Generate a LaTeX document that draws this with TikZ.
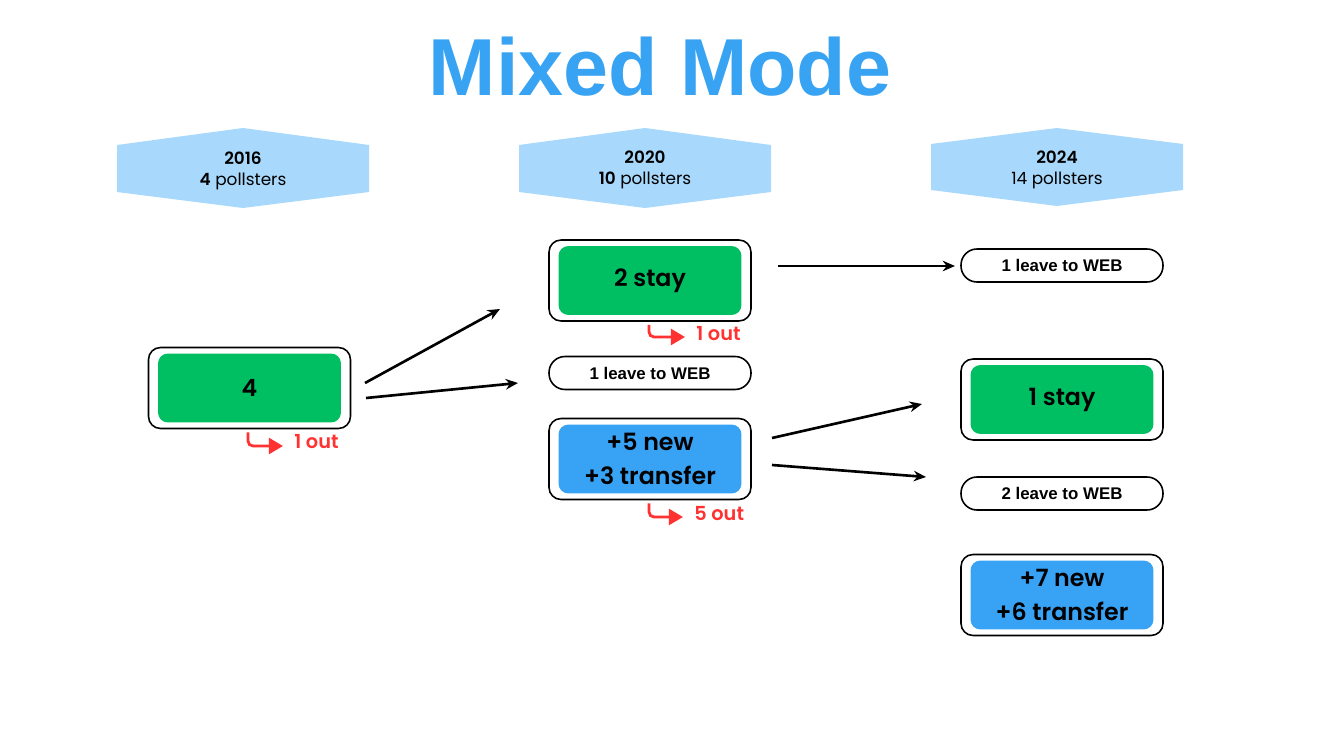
\documentclass[tikz,border=0pt]{standalone}
\usepackage{fontspec}
\setmainfont{Liberation Sans}
\newfontfamily\popfont[BoldFont={Poppins SemiBold}]{Poppins}
\usepackage{xcolor}
\usetikzlibrary{arrows.meta, positioning}

\definecolor{titleblue}{HTML}{38A3F2}
\definecolor{headblue}{HTML}{A8D8FB}
\definecolor{staygreen}{HTML}{00BF63}
\definecolor{newblue}{HTML}{38A2F5}
\definecolor{outred}{HTML}{FF3131}

\tikzset{
    frame/.style={draw, line width=0.9pt, fill=white, rounded corners=0.24cm,
        minimum width=4.04cm, minimum height=1.62cm},
    core/.style={rounded corners=0.2cm, minimum width=3.66cm, minimum height=1.38cm,
        font=\popfont\fontsize{13.5}{19.3}\selectfont\bfseries, align=center, inner sep=0pt},
    pill/.style={draw, line width=0.9pt, rounded corners=0.32cm, minimum width=4.04cm,
        minimum height=0.66cm, font=\fontsize{9.6}{11}\selectfont\bfseries},
    head/.style={font=\popfont\fontsize{9.6}{12}\selectfont, align=center},
    outlabel/.style={text=outred, font=\popfont\fontsize{11}{13}\selectfont\bfseries,
        anchor=west, inner sep=0pt},
    outarrow/.style={outred, line width=1.6pt, rounded corners=0.1cm,
        -{Triangle[length=8pt, width=9pt]}, shorten >=0.22cm},
    conn/.style={->, line width=1.5pt}
}

\begin{document}
\begin{tikzpicture}[x=0.02cm, y=-0.02cm, >={Stealth[length=7pt, width=6pt]}]
    \useasboundingbox (0,0) rectangle (1320,743);

    % Title
    \node[text=titleblue, font=\fontsize{46}{52}\selectfont\bfseries] (title) at (660,67) {Mixed Mode};

    % Year banners
    \fill[headblue] (117,145) -- (243,128) -- (369,145) -- (369,192) -- (243,208) -- (117,192) -- cycle;
    \fill[headblue] (519,145) -- (645,128) -- (771,145) -- (771,192) -- (645,208) -- (519,192) -- cycle;
    \fill[headblue] (931,144) -- (1057,128) -- (1183,144) -- (1183,190) -- (1057,206) -- (931,190) -- cycle;
    \node[head] (h2016) at (243,171) {\textbf{2016}\\\textbf{4} pollsters};
    \node[head] (h2020) at (645,170) {\textbf{2020}\\\textbf{10} pollsters};
    \node[head] (h2024) at (1057,170) {\textbf{2024}\\14 pollsters};

    % 2016
    \node[frame] (four) at (249.5,388) {};
    \node[core, fill=staygreen] (fourin) at (four) {4};
    \node[outlabel] (outA) at (294,442) {1 out};
    \draw[outarrow] ([xshift=-0.03cm, yshift=-0.06cm]four.south) |- ([yshift=-0.08cm]outA.west);

    % 2020
    \node[frame] (stayB) at (650,280.5) {};
    \node[core, fill=staygreen] (stayBin) at (stayB) {2 stay};
    \node[outlabel] (outB) at (696,334) {1 out};
    \draw[outarrow] ([xshift=-0.02cm, yshift=-0.06cm]stayB.south) |- ([yshift=-0.06cm]outB.west);

    \node[pill] (webB) at (650,373) {1 leave to WEB};

    \node[frame] (newB) at (650,459) {};
    \node[core, fill=newblue] (newBin) at (newB) {+5 new\\+3 transfer};
    \node[outlabel] (outC) at (694,514) {5 out};
    \draw[outarrow] ([xshift=-0.02cm, yshift=-0.06cm]newB.south) |- ([yshift=-0.06cm]outC.west);

    % 2024
    \node[pill] (webC) at (1062,265.5) {1 leave to WEB};

    \node[frame] (stayC) at (1062,399.5) {};
    \node[core, fill=staygreen] (stayCin) at (stayC) {1 stay};

    \node[pill] (webD) at (1062,493.5) {2 leave to WEB};

    \node[frame] (newC) at (1062,595) {};
    \node[core, fill=newblue] (newCin) at (newC) {+7 new\\+6 transfer};

    % Flow arrows
    \coordinate (s1) at (365,383);  \coordinate (e1) at (500,309);
    \coordinate (s2) at (366,398);  \coordinate (e2) at (518,383);
    \coordinate (s3) at (778,266);  \coordinate (e3) at (955,266);
    \coordinate (s4) at (772,438);  \coordinate (e4) at (922,404);
    \coordinate (s5) at (772,465);  \coordinate (e5) at (926,477);
    \draw[conn] (s1) -- (e1);
    \draw[conn] (s2) -- (e2);
    \draw[conn] (s3) -- (e3);
    \draw[conn] (s4) -- (e4);
    \draw[conn] (s5) -- (e5);
\end{tikzpicture}
\end{document}
